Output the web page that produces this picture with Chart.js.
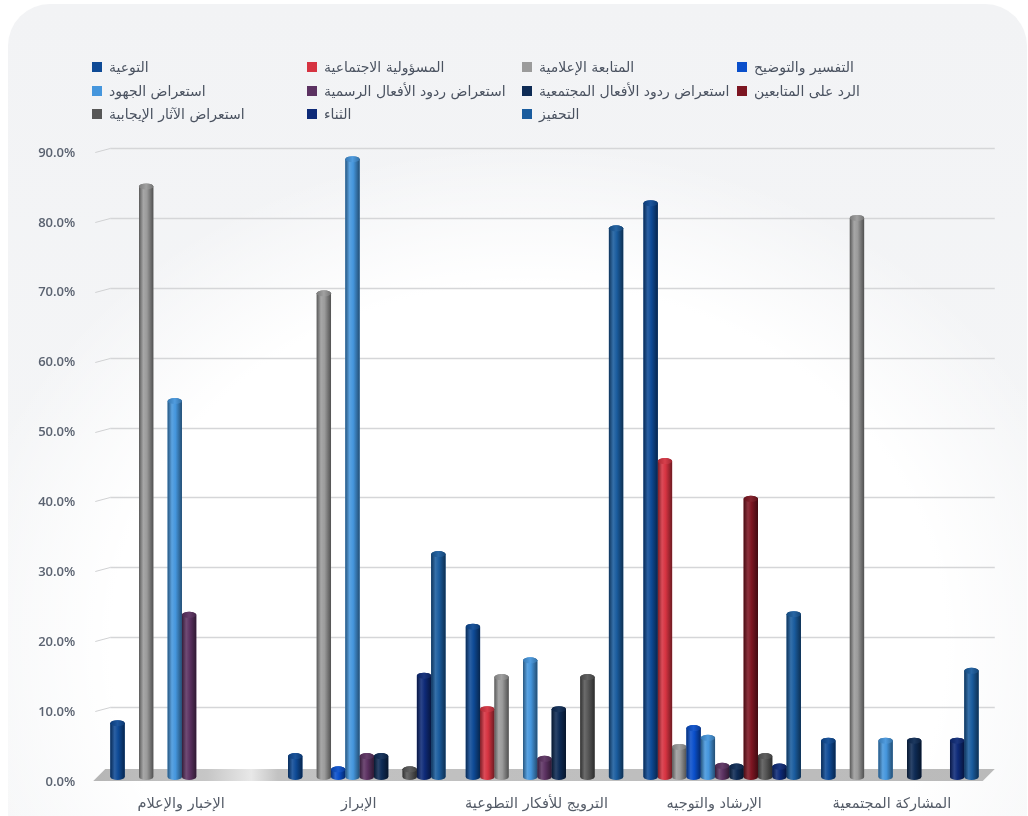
<!DOCTYPE html>
<html lang="ar">
<head>
<meta charset="utf-8">
<title>توزيع الوظائف حسب المحاور</title>
<script src="https://cdn.jsdelivr.net/npm/chart.js@4.4.1/dist/chart.umd.min.js"></script>
<style>
  html, body { margin: 0; padding: 0; background: #ffffff; }
  body { width: 1028px; height: 816px; overflow: hidden; position: relative; }
  .card {
    position: absolute; left: 8px; top: 4px; width: 1019px; height: 900px;
    border-radius: 42px;
    background:
      radial-gradient(ellipse 580px 500px at 520px 640px, #ffffff 72%, rgba(255,255,255,0) 100%),
      linear-gradient(#f2f3f5, #f6f7f8);
  }
  #wrap { position: absolute; left: 0; top: 0; width: 1028px; height: 816px; }
  #legend { position: absolute; left: 0; top: 0; width: 1028px; height: 130px; }
  .lg-item {
    position: absolute; display: flex; align-items: center; direction: ltr;
    font-family: "DejaVu Sans", "Noto Sans", sans-serif; font-size: 14px; color: #4a5260;
    white-space: nowrap;
  }
  .lg-box { width: 10px; height: 10px; margin-right: 7px; flex: none; }
  .lg-text { direction: rtl; unicode-bidi: isolate; }
</style>
</head>
<body>
<div class="card"></div>
<div id="wrap"><canvas id="c" width="1028" height="816"></canvas></div>
<div id="legend"></div>
<script>
// Categories (content axes) and the share of each function per axis, in percent
const categories = ['الإخبار والإعلام', 'الإبراز', 'الترويج للأفكار التطوعية', 'الإرشاد والتوجيه', 'المشاركة المجتمعية'];

const seriesNames = [
  'التوعية',
  'المسؤولية الاجتماعية',
  'المتابعة الإعلامية',
  'التفسير والتوضيح',
  'استعراض الجهود',
  'استعراض ردود الأفعال الرسمية',
  'استعراض ردود الأفعال المجتمعية',
  'الرد على المتابعين',
  'استعراض الآثار الإيجابية',
  'الثناء',
  'التحفيز'
];

const awareness        = [7.7, 3.0, 21.5, 82.1, 5.2];
const socialResp       = [0, 0, 9.7, 45.2, 0];
const mediaFollow      = [84.5, 69.2, 14.3, 4.3, 80.0];
const explanation      = [0, 1.1, 0, 7.0, 0];
const effortsReview    = [53.8, 88.4, 16.7, 5.6, 5.2];
const officialReact    = [23.2, 3.0, 2.6, 1.6, 0];
const communityReact   = [0, 3.0, 9.7, 1.5, 5.2];
const followerReplies  = [0, 0, 0, 39.8, 0];
const positiveImpact   = [0, 1.1, 14.3, 3.0, 0];
const praise           = [0, 14.5, 0, 1.5, 5.2];
const motivation       = [0, 31.9, 78.5, 23.3, 15.2];

const seriesValues = [awareness, socialResp, mediaFollow, explanation, effortsReview,
  officialReact, communityReact, followerReplies, positiveImpact, praise, motivation];

const seriesColors = ['#0E4A96', '#D63341', '#9B9B9B', '#0A4FCB', '#4596DD', '#5C3262',
  '#0E2B55', '#7D1622', '#575757', '#0E2A78', '#1A5C9E'];

const yTicks = [0, 10, 20, 30, 40, 50, 60, 70, 80, 90];

// colour helpers
function hexToRgb(h) {
  const n = parseInt(h.slice(1), 16);
  return [(n >> 16) & 255, (n >> 8) & 255, n & 255];
}
function mix(h, target, t) {
  const a = hexToRgb(h), b = target === 'white' ? [255, 255, 255] : [0, 0, 0];
  const c = a.map((v, i) => Math.round(v + (b[i] - v) * t));
  return 'rgb(' + c.join(',') + ')';
}

// floor, back-wall grid lines with a short perspective leader
const wallPlugin = {
  id: 'wall',
  beforeDatasetsDraw(chart) {
    const { ctx, chartArea: a, scales: { y } } = chart;
    ctx.save();
    // floor slab
    const y0 = y.getPixelForValue(0);
    const fg = ctx.createLinearGradient(a.left, 0, a.right, 0);
    fg.addColorStop(0, '#b6b6b6');
    fg.addColorStop(0.12, '#c6c6c6');
    fg.addColorStop(0.17, '#e8e8e8');
    fg.addColorStop(0.2, '#c2c2c2');
    fg.addColorStop(1, '#bababa');
    ctx.fillStyle = fg;
    ctx.beginPath();
    ctx.moveTo(a.left + 5, y0 - 8);
    ctx.lineTo(a.right + 6, y0 - 8);
    ctx.lineTo(a.right - 6, y0 + 4);
    ctx.lineTo(a.left - 7, y0 + 4);
    ctx.closePath();
    ctx.fill();
    // grid
    yTicks.forEach(v => {
      if (v === 0) return;
      const py = Math.round(y.getPixelForValue(v)) + 0.5;
      ctx.strokeStyle = '#d5d6d8';
      ctx.lineWidth = 1.5;
      ctx.beginPath();
      ctx.moveTo(a.left + 10, py);
      ctx.lineTo(a.right + 6, py);
      ctx.stroke();
      ctx.strokeStyle = '#d0d1d3';
      ctx.lineWidth = 1;
      ctx.beginPath();
      ctx.moveTo(a.left - 5, py + 4);
      ctx.lineTo(a.left + 10, py);
      ctx.stroke();
    });
    ctx.restore();
  }
};

// shade each bar element as a cylinder
const cylinderPlugin = {
  id: 'cylinder',
  afterDatasetsDraw(chart) {
    const ctx = chart.ctx;
    chart.data.datasets.forEach((ds, di) => {
      const meta = chart.getDatasetMeta(di);
      if (meta.hidden) return;
      const color = seriesColors[di];
      meta.data.forEach((el, i) => {
        if (!ds.data[i]) return;
        const { x, y, base, width } = el.getProps(['x', 'y', 'base', 'width'], true);
        const w = width, l = x - w / 2, r = x + w / 2, ry = 3;
        const g = ctx.createLinearGradient(l, 0, r, 0);
        g.addColorStop(0, mix(color, 'black', 0.42));
        g.addColorStop(0.3, mix(color, 'white', 0.12));
        g.addColorStop(0.55, color);
        g.addColorStop(1, mix(color, 'black', 0.48));
        ctx.save();
        ctx.fillStyle = g;
        ctx.beginPath();
        ctx.moveTo(l, y);
        ctx.lineTo(l, base);
        ctx.ellipse(x, base, w / 2, ry, 0, Math.PI, 0, true);
        ctx.lineTo(r, y);
        ctx.ellipse(x, y, w / 2, ry, 0, 0, Math.PI, true);
        ctx.closePath();
        ctx.fill();
        // top cap
        const cg = ctx.createLinearGradient(l, 0, r, 0);
        cg.addColorStop(0, mix(color, 'black', 0.2));
        cg.addColorStop(0.5, mix(color, 'white', 0.06));
        cg.addColorStop(1, mix(color, 'black', 0.25));
        ctx.fillStyle = cg;
        ctx.beginPath();
        ctx.ellipse(x, y, w / 2, ry, 0, 0, Math.PI * 2);
        ctx.fill();
        ctx.restore();
      });
    });
  }
};

// HTML legend laid out in four columns
const htmlLegendPlugin = {
  id: 'htmlLegend',
  afterUpdate(chart) {
    const box = document.getElementById('legend');
    box.innerHTML = '';
    const items = chart.options.plugins.legend.labels.generateLabels(chart);
    items.forEach((it, k) => {
      const col = k % 4, row = Math.floor(k / 4);
      const d = document.createElement('div');
      d.className = 'lg-item';
      d.style.left = (92 + col * 215) + 'px';
      d.style.top = (58 + row * 23.5) + 'px';
      d.style.height = '18px';
      const s = document.createElement('span');
      s.className = 'lg-box';
      s.style.background = it.fillStyle;
      const t = document.createElement('span');
      t.className = 'lg-text';
      t.textContent = it.text;
      d.appendChild(s);
      d.appendChild(t);
      box.appendChild(d);
    });
  }
};

const datasets = seriesNames.map((name, i) => ({
  label: name,
  data: seriesValues[i],
  backgroundColor: seriesColors[i],
  borderWidth: 0,
  categoryPercentage: 0.886,
  barPercentage: 1.0
}));

new Chart(document.getElementById('c'), {
  type: 'bar',
  data: { labels: categories, datasets },
  options: {
    responsive: false,
    animation: false,
    layout: { padding: { top: 148, right: 39.25, bottom: 0, left: 0 } },
    plugins: {
      legend: { display: false },
      tooltip: { enabled: false }
    },
    scales: {
      x: {
        grid: { display: false, drawTicks: false },
        border: { display: false },
        ticks: {
          padding: 19,
          labelOffset: -8,
          color: '#555c68',
          font: { family: '"DejaVu Sans", sans-serif', size: 14.5 }
        },
        afterFit(s) { s.height = 39; }
      },
      y: {
        min: 0, max: 90,
        grid: { display: false, drawTicks: false },
        border: { display: false },
        afterBuildTicks(s) { s.ticks = yTicks.map(v => ({ value: v })); },
        ticks: {
          padding: 25,
          labelOffset: 5,
          color: '#5a6270',
          font: { family: '"Open Sans", sans-serif', size: 13, weight: '600' },
          callback: v => v.toFixed(1) + '%'
        },
        afterFit(s) { s.width = 100.25; }
      }
    }
  },
  plugins: [wallPlugin, cylinderPlugin, htmlLegendPlugin]
});
</script>
</body>
</html>
